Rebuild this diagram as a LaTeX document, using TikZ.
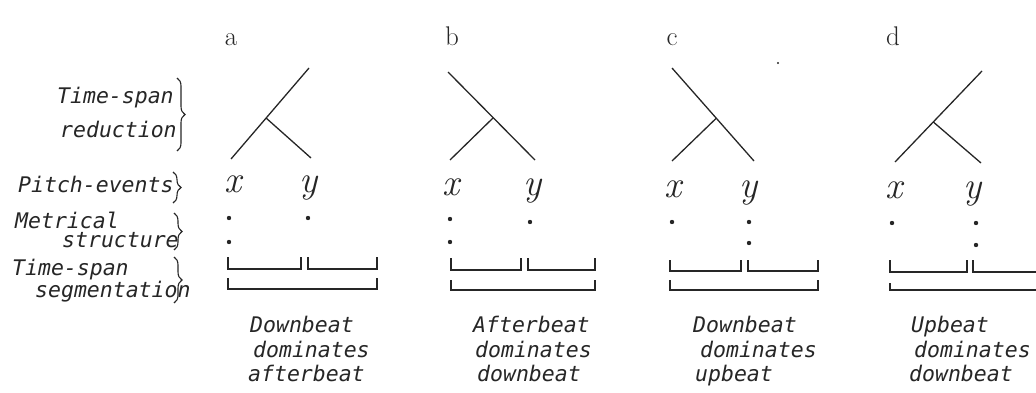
\documentclass[tikz,border=0pt]{standalone}
\usepackage{fontspec}
\newfontfamily\handfam{DejaVu Sans Mono}
\usetikzlibrary{decorations.pathreplacing,calc}
\colorlet{ink}{black!85}
\tikzset{
  hand/.style={font=\handfam\itshape\fontsize{21.5}{24}\selectfont, anchor=base west, inner sep=0pt, text=ink},
  letter/.style={font=\fontsize{27}{30}\selectfont, inner sep=0pt, anchor=base, text=ink},
  var/.style={font=\itshape\fontsize{38}{40}\selectfont, inner sep=0pt, anchor=base, text=ink},
  stroke/.style={line width=1.3pt, draw=ink},
  bracket/.style={line width=1.2pt, draw=ink},
  bracedeco/.style={draw=ink, line width=1.1pt, decorate, decoration={brace, amplitude=8pt}},
  mdot/.style={circle, fill=ink, inner sep=0pt, minimum size=4.4pt},
}
\begin{document}
\begin{tikzpicture}[x=1pt,y=-1pt]
\useasboundingbox (0,0) rectangle (1036,393);

% left labels
\node[hand] (tsr1) at (57,104) {Time-span};
\node[hand] (tsr2) at (60,138) {reduction};
\coordinate (br1t) at (177,78); \coordinate (br1b) at (177,151);
\draw[bracedeco] (br1t) -- (br1b);
\node[hand] (pe) at (18,193) {Pitch-events};
\coordinate (br2t) at (173,172); \coordinate (br2b) at (173,203);
\draw[bracedeco] (br2t) -- (br2b);
\node[hand] (ms1) at (15,228) {Metrical};
\node[hand] (ms2) at (62,247) {structure};
\coordinate (br3t) at (174,213); \coordinate (br3b) at (174,250);
\draw[bracedeco] (br3t) -- (br3b);
\node[hand] (tss1) at (12,275) {Time-span};
\node[hand] (tss2) at (35,297) {segmentation};
\coordinate (br4t) at (174,257); \coordinate (br4b) at (174,303);
\draw[bracedeco] (br4t) -- (br4b);

% column a
\node[letter] (la) at (231,46) {a};
\coordinate (aT) at (309,68); \coordinate (aL) at (231,159);
\coordinate (aB) at ($(aT)!0.55!(aL)$);
\coordinate (aR) at (311,158);
\draw[stroke] (aT) -- (aL); \draw[stroke] (aB) -- (aR);
\node[var] (ax) at (233,193) {x};
\node[var] (ay) at (309,193) {y};
\node[mdot] (ad1) at (229,218) {}; \node[mdot] (ad2) at (229,242) {};
\node[mdot] (ad3) at (308,218) {};
\draw[bracket] (228,257) -- (228,269) -- (301,269) -- (301,257);
\draw[bracket] (308,257) -- (308,269) -- (377,269) -- (377,257);
\draw[bracket] (228,278) -- (228,289) -- (377,289) -- (377,278);
\node[hand] (at1) at (250,332) {Downbeat};
\node[hand] (at2) at (253,357) {dominates};
\node[hand] (at3) at (248,381) {afterbeat};

% column b
\node[letter] (lb) at (452,46) {b};
\coordinate (bT) at (448,72); \coordinate (bR) at (535,160);
\coordinate (bB) at ($(bT)!0.52!(bR)$);
\coordinate (bL) at (450,160);
\draw[stroke] (bT) -- (bR); \draw[stroke] (bB) -- (bL);
\node[var] (bx) at (451,195) {x};
\node[var] (by) at (533,195) {y};
\node[mdot] (bd1) at (450,219) {}; \node[mdot] (bd2) at (450,242) {};
\node[mdot] (bd3) at (530,222) {};
\draw[bracket] (451,258) -- (451,270) -- (521,270) -- (521,258);
\draw[bracket] (528,258) -- (528,270) -- (595,270) -- (595,258);
\draw[bracket] (451,280) -- (451,290) -- (595,290) -- (595,280);
\node[hand] (bt1) at (473,332) {Afterbeat};
\node[hand] (bt2) at (475,357) {dominates};
\node[hand] (bt3) at (477,381) {downbeat};

% column c
\node[letter] (lc) at (672,46) {c};
\coordinate (cT) at (672,68); \coordinate (cR) at (754,161);
\coordinate (cB) at ($(cT)!0.54!(cR)$);
\coordinate (cL) at (672,161);
\draw[stroke] (cT) -- (cR); \draw[stroke] (cB) -- (cL);
\node[mdot, minimum size=2.4pt] (speck) at (778,63) {};
\node[var] (cx) at (673,197) {x};
\node[var] (cy) at (749,197) {y};
\node[mdot] (cd1) at (672,222) {};
\node[mdot] (cd2) at (749,222) {}; \node[mdot] (cd3) at (749,243) {};
\draw[bracket] (670,260) -- (670,271) -- (741,271) -- (741,260);
\draw[bracket] (748,260) -- (748,271) -- (818,271) -- (818,260);
\draw[bracket] (670,280) -- (670,290) -- (818,290) -- (818,280);
\node[hand] (ct1) at (693,332) {Downbeat};
\node[hand] (ct2) at (700,357) {dominates};
\node[hand] (ct3) at (695,381) {upbeat};

% column d
\node[letter] (ld) at (893,46) {d};
\coordinate (dT) at (982,71); \coordinate (dL) at (895,162);
\coordinate (dB) at ($(dT)!0.56!(dL)$);
\coordinate (dR) at (981,163);
\draw[stroke] (dT) -- (dL); \draw[stroke] (dB) -- (dR);
\node[var] (dx) at (894,198) {x};
\node[var] (dy) at (973,198) {y};
\node[mdot] (dd1) at (892,223) {};
\node[mdot] (dd2) at (976,223) {}; \node[mdot] (dd3) at (976,245) {};
\draw[bracket] (890,260) -- (890,272) -- (967,272) -- (967,260);
\draw[bracket] (973,260) -- (973,272) -- (1040,272);
\draw[bracket] (890,283) -- (890,290) -- (1040,290);
\node[hand] (dt1) at (911,332) {Upbeat};
\node[hand] (dt2) at (914,357) {dominates};
\node[hand] (dt3) at (909,381) {downbeat};
\end{tikzpicture}
\end{document}
